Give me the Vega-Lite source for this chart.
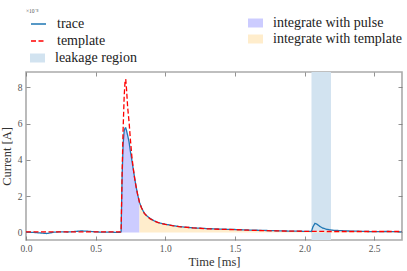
{
  "$schema": "https://vega.github.io/schema/vega-lite/v6.json",
  "width": 376,
  "height": 168,
  "autosize": {"type": "none"},
  "padding": {"left": 26, "top": 72, "right": 5, "bottom": 31},
  "background": "white",
  "title": {"text": "×10⁻⁸", "anchor": "start", "frame": "group", "fontSize": 5.5, "font": "Liberation Serif", "fontWeight": "normal", "color": "#555", "offset": 1},
  "datasets": {
    "sig": [
      {"t": 0.0, "trace": 0.02, "template": 0.03},
      {"t": 0.05, "trace": 0.0, "template": 0.03},
      {"t": 0.1, "trace": -0.03, "template": 0.03},
      {"t": 0.15, "trace": -0.06, "template": 0.03},
      {"t": 0.2, "trace": 0.01, "template": 0.03},
      {"t": 0.25, "trace": 0.03, "template": 0.03},
      {"t": 0.3, "trace": 0.02, "template": 0.03},
      {"t": 0.35, "trace": 0.05, "template": 0.03},
      {"t": 0.4, "trace": 0.08, "template": 0.03},
      {"t": 0.45, "trace": 0.06, "template": 0.03},
      {"t": 0.5, "trace": 0.03, "template": 0.03},
      {"t": 0.55, "trace": 0.01, "template": 0.03},
      {"t": 0.6, "trace": 0.02, "template": 0.03},
      {"t": 0.65, "trace": 0.0, "template": 0.03},
      {"t": 0.68, "trace": 0.01, "template": 0.03},
      {"t": 0.683, "trace": 0.05, "template": 0.05},
      {"t": 0.69, "trace": 3.0, "template": 3.2},
      {"t": 0.697, "trace": 4.8, "template": 5.6},
      {"t": 0.705, "trace": 5.6, "template": 7.5},
      {"t": 0.711, "trace": 5.75, "template": 8.3},
      {"t": 0.716, "trace": 5.77, "template": 8.46},
      {"t": 0.722, "trace": 5.62, "template": 7.9},
      {"t": 0.73, "trace": 5.35, "template": 6.9},
      {"t": 0.74, "trace": 5.0, "template": 6.1},
      {"t": 0.75, "trace": 4.45, "template": 5.1},
      {"t": 0.76, "trace": 4.0, "template": 4.2},
      {"t": 0.77, "trace": 3.5, "template": 3.55},
      {"t": 0.78, "trace": 3.0, "template": 3.0},
      {"t": 0.79, "trace": 2.55, "template": 2.55},
      {"t": 0.8, "trace": 2.15, "template": 2.15},
      {"t": 0.815, "trace": 1.65, "template": 1.65},
      {"t": 0.83, "trace": 1.35, "template": 1.35},
      {"t": 0.85, "trace": 1.05, "template": 1.05},
      {"t": 0.87, "trace": 0.9, "template": 0.88},
      {"t": 0.89, "trace": 0.77, "template": 0.76},
      {"t": 0.92, "trace": 0.64, "template": 0.63},
      {"t": 0.95, "trace": 0.54, "template": 0.54},
      {"t": 1.0, "trace": 0.45, "template": 0.44},
      {"t": 1.05, "trace": 0.38, "template": 0.37},
      {"t": 1.1, "trace": 0.32, "template": 0.32},
      {"t": 1.2, "trace": 0.25, "template": 0.25},
      {"t": 1.3, "trace": 0.21, "template": 0.2},
      {"t": 1.4, "trace": 0.18, "template": 0.17},
      {"t": 1.5, "trace": 0.16, "template": 0.15},
      {"t": 1.6, "trace": 0.13, "template": 0.12},
      {"t": 1.7, "trace": 0.11, "template": 0.1},
      {"t": 1.8, "trace": 0.09, "template": 0.08},
      {"t": 1.9, "trace": 0.07, "template": 0.07},
      {"t": 2.0, "trace": 0.06, "template": 0.06},
      {"t": 2.05, "trace": 0.05, "template": 0.06},
      {"t": 2.06, "trace": 0.3, "template": 0.06},
      {"t": 2.075, "trace": 0.5, "template": 0.06},
      {"t": 2.09, "trace": 0.45, "template": 0.06},
      {"t": 2.11, "trace": 0.33, "template": 0.06},
      {"t": 2.13, "trace": 0.24, "template": 0.06},
      {"t": 2.16, "trace": 0.17, "template": 0.05},
      {"t": 2.2, "trace": 0.12, "template": 0.05},
      {"t": 2.3, "trace": 0.08, "template": 0.05},
      {"t": 2.4, "trace": 0.06, "template": 0.05},
      {"t": 2.5, "trace": 0.04, "template": 0.05},
      {"t": 2.6, "trace": 0.05, "template": 0.05},
      {"t": 2.7, "trace": 0.03, "template": 0.05}
    ],
    "leak": [{"start": 2.05, "end": 2.19}]
  },
  "config": {
    "view": {"stroke": "#aaaaaa", "strokeWidth": 1.6},
    "axis": {
      "domain": false, "grid": false, "labelFlush": false,
      "labelFont": "Liberation Serif", "labelFontSize": 9.5, "labelColor": "#555",
      "tickColor": "#777", "tickSize": -4, "tickWidth": 0.8,
      "titleFont": "Liberation Serif", "titleFontSize": 12.5, "titleFontWeight": "normal", "titleColor": "#333"
    },
    "legend": {
      "labelFont": "Liberation Serif", "labelFontSize": 14, "labelColor": "#222",
      "padding": 0, "rowPadding": 1, "labelOffset": 10, "symbolSize": 225
    }
  },
  "resolve": {"axis": {"x": "independent", "y": "independent"}},
  "layer": [
    {
      "data": {"name": "leak"},
      "mark": {"type": "rect"},
      "encoding": {
        "x": {"field": "start", "type": "quantitative",
              "scale": {"domain": [0, 2.7], "nice": false, "zero": false},
              "axis": {"orient": "bottom", "values": [0, 0.5, 1, 1.5, 2, 2.5], "format": ".1f", "title": "Time [ms]", "labelPadding": 7, "titlePadding": 3}},
        "x2": {"field": "end"},
        "fill": {"datum": "leakage region",
                 "scale": {"domain": ["leakage region"], "range": ["#d2e3f0"]},
                 "legend": {"title": null, "orient": "none", "legendX": 4, "legendY": -21.5,
                            "symbolType": "M-1,-0.6L1,-0.6L1,0.6L-1,0.6Z", "symbolStrokeWidth": 0}}
      }
    },
    {
      "data": {"name": "sig"},
      "transform": [{"filter": {"field": "t", "range": [0.683, 0.815]}}],
      "mark": {"type": "area"},
      "encoding": {
        "x": {"field": "t", "type": "quantitative", "scale": {"domain": [0, 2.7], "nice": false, "zero": false}, "axis": null},
        "y": {"field": "trace", "type": "quantitative",
              "scale": {"domain": [-0.42, 8.85], "nice": false, "zero": false},
              "axis": {"orient": "left", "values": [0, 2, 4, 6, 8], "format": "d", "title": "Current [A]", "labelPadding": 8, "titlePadding": 4}},
        "y2": {"datum": 0},
        "color": {"datum": "integrate with pulse",
                  "scale": {"domain": ["integrate with pulse", "integrate with template"], "range": ["#ccccff", "#ffedcc"]},
                  "legend": {"title": null, "orient": "none", "legendX": 222, "legendY": -56.5,
                             "symbolType": "M-1,-0.6L1,-0.6L1,0.6L-1,0.6Z", "symbolStrokeWidth": 0}}
      }
    },
    {
      "data": {"name": "sig"},
      "transform": [{"filter": {"field": "t", "range": [0.815, 2.7]}}],
      "mark": {"type": "area"},
      "encoding": {
        "x": {"field": "t", "type": "quantitative", "scale": {"domain": [0, 2.7], "nice": false, "zero": false}, "axis": null},
        "y": {"field": "template", "type": "quantitative", "scale": {"domain": [-0.42, 8.85], "nice": false, "zero": false}, "axis": null},
        "y2": {"datum": 0},
        "color": {"datum": "integrate with template"}
      }
    },
    {
      "data": {"name": "sig"},
      "transform": [{"fold": ["trace", "template"], "as": ["series", "value"]}],
      "mark": {"type": "line", "strokeWidth": 1.3},
      "encoding": {
        "x": {"field": "t", "type": "quantitative",
              "scale": {"domain": [0, 2.7], "nice": false, "zero": false},
              "axis": {"orient": "top", "values": [0, 0.5, 1, 1.5, 2, 2.5], "labels": false, "title": null}},
        "y": {"field": "value", "type": "quantitative",
              "scale": {"domain": [-0.42, 8.85], "nice": false, "zero": false},
              "axis": {"orient": "right", "values": [0, 2, 4, 6, 8], "labels": false, "title": null}},
        "stroke": {"field": "series", "type": "nominal",
                   "scale": {"domain": ["trace", "template"], "range": ["#1f77b4", "#ff0000"]},
                   "legend": {"title": null, "orient": "none", "legendX": 4, "legendY": -56.5, "symbolType": "stroke", "symbolStrokeWidth": 1.3}},
        "strokeDash": {"field": "series", "type": "nominal",
                       "scale": {"domain": ["trace", "template"], "range": [[1, 0], [5, 2.5]]},
                       "legend": {"title": null, "orient": "none", "legendX": 4, "legendY": -56.5, "symbolType": "stroke", "symbolStrokeWidth": 1.3}},
        "order": {"field": "series", "sort": "descending"}
      }
    }
  ]
}
